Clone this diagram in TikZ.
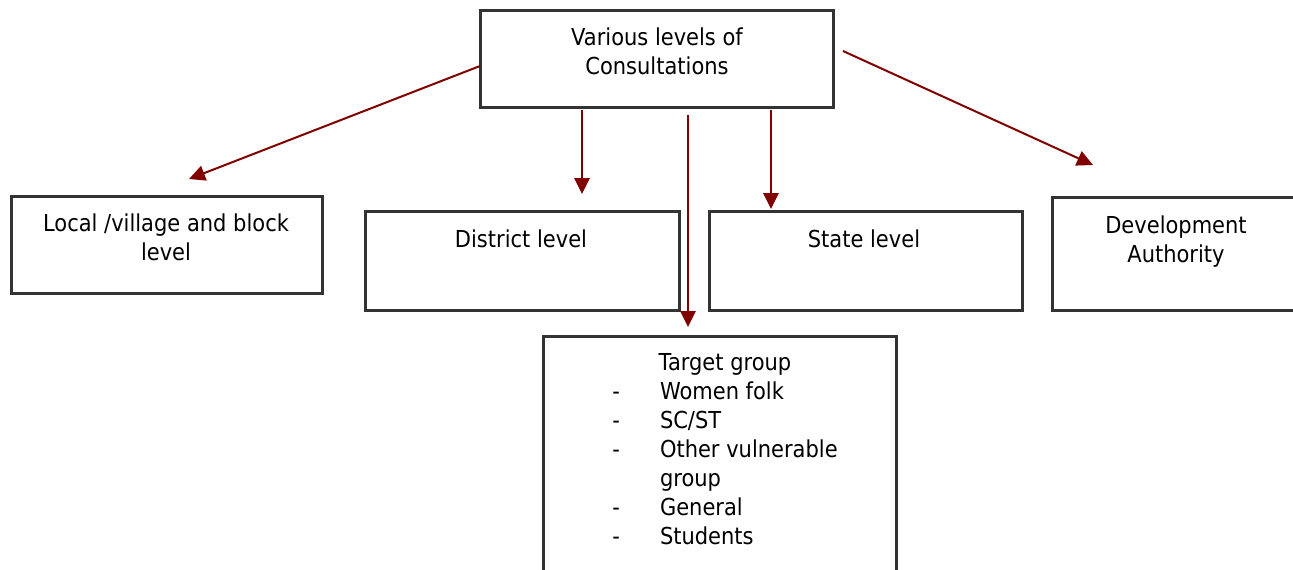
\documentclass[tikz,border=0pt]{standalone}
\usepackage{fontspec}
\setmainfont{DejaVu Sans}[FakeStretch=0.9]
\usepackage{xcolor}
\usetikzlibrary{
	arrows.meta,
	fit
}
\definecolor{arrowred}{RGB}{128,0,0}
\tikzset{
	box/.style={draw=black!80, line width=2.25pt, inner sep=0pt},
	txt/.style={anchor=north, inner sep=0pt, font=\fontsize{17.5}{21.75}\selectfont},
	arr/.style={-{Triangle[length=12pt, width=11.5pt]}, draw=arrowred, line width=1.5pt}
}

\begin{document}
\begin{tikzpicture}[x=0.75pt, y=-0.75pt]
	\useasboundingbox (0,0) rectangle (1293,569);
	% 方框
	\node[box, fit={(480,10) (833,107)}] (consult) {};
	\node[box, fit={(11,196) (322,293)}] (local) {};
	\node[box, fit={(365,211) (679,310)}] (district) {};
	\node[box, fit={(709,211) (1022,310)}] (state) {};
	\node[box, fit={(1052,197) (1320,310)}] (devauth) {};
	\node[box, fit={(543,336) (896,600)}] (target) {};
	% 文字
	\node[txt] (consulttxt) at (657,24.7) {\begin{tabular}{c}Various levels of\\Consultations\end{tabular}};
	\node[txt] (localtxt) at (166,211) {\begin{tabular}{c}Local /village and block\\level\end{tabular}};
	\node[txt] (districttxt) at (521,226.5) {\begin{tabular}{c}District level\end{tabular}};
	\node[txt] (statetxt) at (864,226.5) {\begin{tabular}{c}State level\end{tabular}};
	\node[txt] (devauthtxt) at (1176,212.7) {\begin{tabular}{c}Development\\Authority\end{tabular}};
	\node[txt, anchor=north west] (targettxt) at (612,350.4) {%
		\begin{tabular}{@{}p{35.8pt}@{}l@{}}
			\multicolumn{2}{@{}c@{}}{Target group}\\
			- & Women folk\\
			- & SC/ST\\
			- & Other vulnerable\\
			  & group\\
			- & General\\
			- & Students
		\end{tabular}};
	% 箭头
	\coordinate (l0) at (480,66);
	\coordinate (l1) at (189,179);
	\coordinate (d0) at (582,110);
	\coordinate (d1) at (582,194);
	\coordinate (t0) at (688,115);
	\coordinate (t1) at (688,327);
	\coordinate (s0) at (771,110);
	\coordinate (s1) at (771,209);
	\coordinate (r0) at (843,51);
	\coordinate (r1) at (1093,165);
	\draw[arr] (l0) -- (l1);
	\draw[arr] (d0) -- (d1);
	\draw[arr] (t0) -- (t1);
	\draw[arr] (s0) -- (s1);
	\draw[arr] (r0) -- (r1);
\end{tikzpicture}
\end{document}
